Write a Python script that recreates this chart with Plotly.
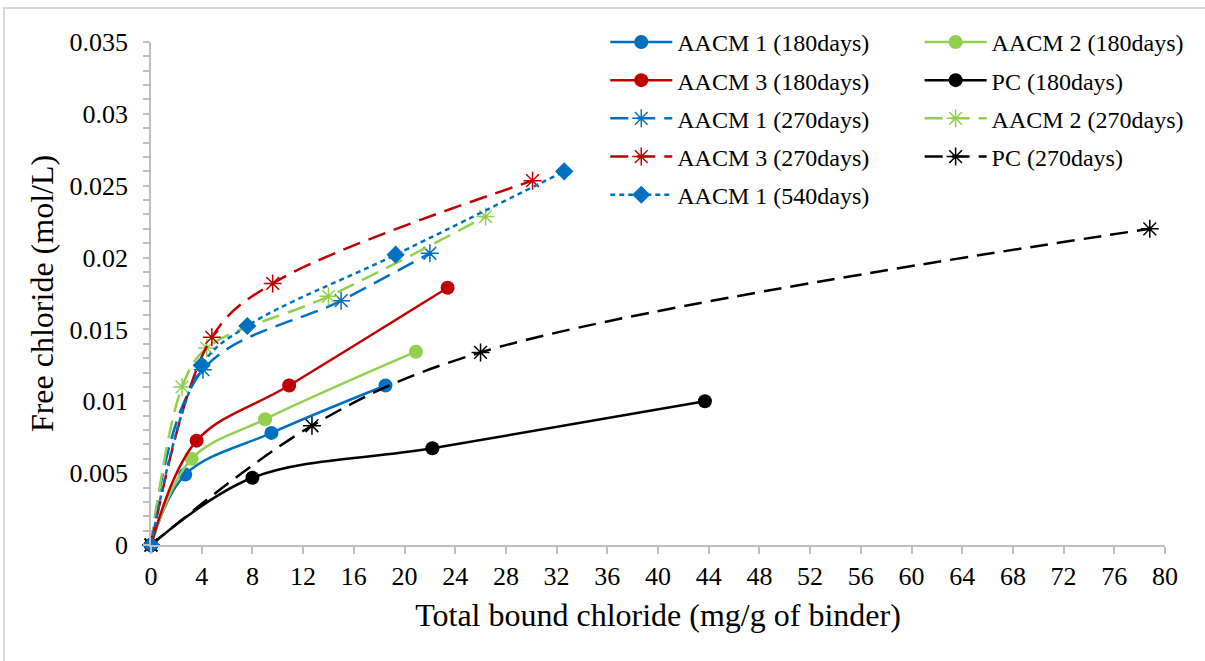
import plotly.graph_objects as go

# ---- data ----
aacm1_180_x = [0, 2.7, 9.5, 18.5]
aacm1_180_y = [0, 0.0049, 0.0078, 0.0111]
aacm2_180_x = [0, 3.2, 9.0, 20.9]
aacm2_180_y = [0, 0.0060, 0.00875, 0.01345]
aacm3_180_x = [0, 3.6, 10.9, 23.4]
aacm3_180_y = [0, 0.00726, 0.0111, 0.0179]
pc_180_x = [0, 8.0, 22.2, 43.7]
pc_180_y = [0, 0.00468, 0.00673, 0.0100]

aacm1_270_x = [0, 4.1, 15.0, 22.0]
aacm1_270_y = [0, 0.0122, 0.0170, 0.0203]
aacm2_270_x = [0, 2.45, 4.4, 14.0, 26.4]
aacm2_270_y = [0, 0.0110, 0.0137, 0.0173, 0.02285]
aacm3_270_x = [0, 4.8, 9.6, 30.1]
aacm3_270_y = [0, 0.01445, 0.0182, 0.02535]
pc_270_x = [0, 12.7, 26.0, 78.8]
pc_270_y = [0, 0.0083, 0.0134, 0.0220]

aacm1_540_x = [0, 4.0, 7.6, 19.3, 32.6]
aacm1_540_y = [0, 0.0125, 0.01524, 0.0202, 0.0260]

x_ticks = list(range(0, 81, 4))
y_tickvals = [0, 0.005, 0.01, 0.015, 0.02, 0.025, 0.03, 0.035]
y_ticktext = ["0", "0.005", "0.01", "0.015", "0.02", "0.025", "0.03", "0.035"]

BLUE = "#0070C0"
GREEN = "#92D050"
RED = "#C00000"
BLACK = "#000000"
FONT = "Liberation Serif"

series = [
    # name, x, y, color, dash, symbol, legend
    ("AACM 1 (180days)", aacm1_180_x, aacm1_180_y, BLUE, "solid", "circle", "legend"),
    ("AACM 2 (180days)", aacm2_180_x, aacm2_180_y, GREEN, "solid", "circle", "legend2"),
    ("AACM 3 (180days)", aacm3_180_x, aacm3_180_y, RED, "solid", "circle", "legend"),
    ("PC (180days)", pc_180_x, pc_180_y, BLACK, "solid", "circle", "legend2"),
    ("AACM 1 (270days)", aacm1_270_x, aacm1_270_y, BLUE, "18px,9px", "asterisk-open", "legend"),
    ("AACM 2 (270days)", aacm2_270_x, aacm2_270_y, GREEN, "18px,9px", "asterisk-open", "legend2"),
    ("AACM 3 (270days)", aacm3_270_x, aacm3_270_y, RED, "18px,9px", "asterisk-open", "legend"),
    ("PC (270days)", pc_270_x, pc_270_y, BLACK, "18px,9px", "asterisk-open", "legend2"),
    ("AACM 1 (540days)", aacm1_540_x, aacm1_540_y, BLUE, "5px,4px", "diamond", "legend"),
]

fig = go.Figure()
for name, xs, ys, col, dash, sym, leg in series:
    if sym == "circle":
        marker = dict(symbol="circle", size=14, color=col)
    elif sym == "diamond":
        marker = dict(symbol="diamond", size=14, color=col)
    else:
        marker = dict(symbol="asterisk-open", size=15, color=col, line=dict(color=col, width=1.5))
    fig.add_trace(go.Scatter(
        x=xs, y=ys, name=name, mode="lines+markers", cliponaxis=False,
        line=dict(color=col, width=2.5, dash=dash, shape="spline", smoothing=1),
        marker=marker, legend=leg, legendgroup=name,
    ))

axis_col = "#bfbfbf"
fig.update_layout(
    width=1205, height=661,
    margin=dict(l=151, r=40, t=42, b=116),
    paper_bgcolor="white", plot_bgcolor="white",
    font=dict(family=FONT, color="black", size=24),
    xaxis=dict(
        range=[0, 80], tickvals=x_ticks, ticks="outside", ticklen=7, tickcolor=axis_col, tickwidth=1.5,
        showline=True, linecolor=axis_col, linewidth=1.5, showgrid=False, zeroline=False,
        tickfont=dict(family=FONT, size=26, color="black"), automargin=False,
        title=dict(text="Total bound chloride (mg/g of binder)", font=dict(family=FONT, size=32, color="black"), standoff=14),
    ),
    yaxis=dict(
        range=[0, 0.035], tickvals=y_tickvals, ticktext=y_ticktext, ticks="outside", ticklen=6,
        tickcolor=axis_col, tickwidth=1.5, ticklabelstandoff=10, automargin=False,
        minor=dict(dtick=0.001, ticks="outside", ticklen=6, tickcolor=axis_col, tickwidth=1.5),
        showline=True, linecolor=axis_col, linewidth=1.5, showgrid=False, zeroline=False,
        tickfont=dict(family=FONT, size=26, color="black"),
        title=dict(text="Free chloride (mol/L)", font=dict(family=FONT, size=32, color="black"), standoff=6),
    ),
    legend=dict(x=0.448, y=1.044, xanchor="left", yanchor="top", bgcolor="rgba(0,0,0,0)",
                font=dict(family=FONT, size=24, color="black"), itemwidth=62, tracegroupgap=4),
    legend2=dict(x=0.758, y=1.044, xanchor="left", yanchor="top", bgcolor="rgba(0,0,0,0)",
                 font=dict(family=FONT, size=24, color="black"), itemwidth=62, tracegroupgap=4),
    showlegend=True,
    shapes=[dict(type="rect", xref="paper", yref="paper", x0=-0.145, x1=1.2, y0=-0.4, y1=1.0676,
                 line=dict(color="#d9d9d9", width=2), fillcolor="rgba(0,0,0,0)", layer="below")],
)

fig.write_html("out.html")
